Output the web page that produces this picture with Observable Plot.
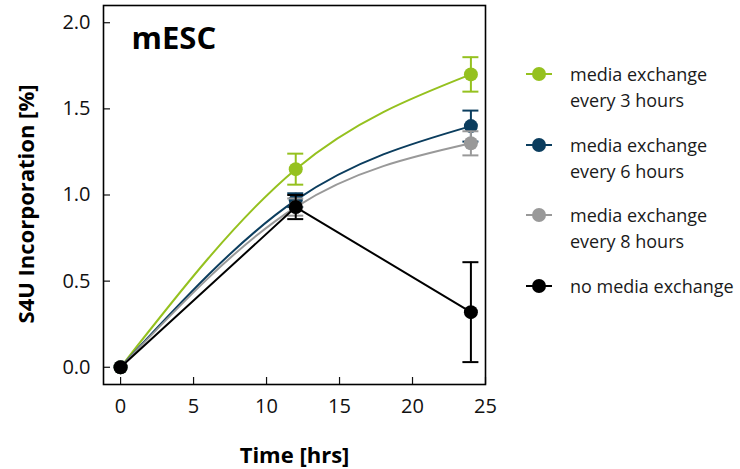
<!DOCTYPE html>
<html>
<head>
<meta charset="utf-8">
<script src="https://cdn.jsdelivr.net/npm/d3@7"></script>
<script src="https://cdn.jsdelivr.net/npm/@observablehq/plot@0.6"></script>
<style>
  body { margin: 0; background: #fff; }
  #wrap { position: relative; width: 740px; height: 469px; font-family: "Open Sans", sans-serif; }
  .leg { position: absolute; left: 524px; display: flex; align-items: flex-start; font-size: 18px; line-height: 26px; color: #1a1a1a; }
  .leg svg { margin-top: 3px; margin-right: 16px; }
</style>
</head>
<body>
<div id="wrap"></div>
<script>
const times = [0, 12, 24];
const seriesNames = ["media exchange every 3 hours", "media exchange every 6 hours", "media exchange every 8 hours", "no media exchange"];
const legendLines = [["media exchange", "every 3 hours"], ["media exchange", "every 6 hours"], ["media exchange", "every 8 hours"], ["no media exchange"]];
const colors = ["#95c11f", "#0b3d5e", "#999999", "#000000"];
const curves = ["monotone-x", "monotone-x", "monotone-x", "linear"];
const values3h = [0, 1.15, 1.70];
const err3h = [0, 0.09, 0.10];
const values6h = [0, 0.97, 1.40];
const err6h = [0, 0.04, 0.09];
const values8h = [0, 0.93, 1.30];
const err8h = [0, 0.05, 0.07];
const valuesNone = [0, 0.93, 0.32];
const errNone = [0, 0.07, 0.29];
const xTicks = [0, 5, 10, 15, 20, 25];
const yTicks = [0, 0.5, 1.0, 1.5, 2.0];

const allValues = [values3h, values6h, values8h, valuesNone];
const allErr = [err3h, err6h, err8h, errNone];

const marks = [];
allValues.forEach((vals, s) => {
  const rows = times.map((t, i) => ({t, v: vals[i], e: allErr[s][i]}));
  const er = rows.filter(d => d.e > 0);
  marks.push(Plot.line(rows, {x: "t", y: "v", stroke: colors[s], strokeWidth: 2, curve: curves[s]}));
  marks.push(Plot.ruleX(er, {x: "t", y1: d => d.v - d.e, y2: d => d.v + d.e, stroke: colors[s], strokeWidth: 2}));
  marks.push(Plot.ruleY(er, {y: d => d.v + d.e, x1: "t", x2: "t", insetLeft: -8, insetRight: -8, stroke: colors[s], strokeWidth: 2}));
  marks.push(Plot.ruleY(er, {y: d => d.v - d.e, x1: "t", x2: "t", insetLeft: -8, insetRight: -8, stroke: colors[s], strokeWidth: 2}));
  marks.push(Plot.dot(rows, {x: "t", y: "v", r: 7, fill: colors[s], stroke: null}));
});

const chart = Plot.plot({
  width: 740,
  height: 469,
  marginLeft: 103,
  marginRight: 255,
  marginTop: 5,
  marginBottom: 85,
  style: {fontFamily: "Open Sans, sans-serif", fontSize: "20px", color: "#111", background: "#fff"},
  x: {domain: [-1.17, 25]},
  y: {domain: [-0.1, 2.1]},
  marks: [
    Plot.axisX({ticks: xTicks, tickSize: -7, tickPadding: 21, label: null, strokeWidth: 1.2}),
    Plot.axisY({ticks: yTicks, tickFormat: d3.format(".1f"), tickSize: -7, tickPadding: 20, label: null, strokeWidth: 1.2}),
    ...marks,
    Plot.frame({stroke: "#000", strokeWidth: 1.6}),
    Plot.text(["mESC"], {frameAnchor: "top-left", dx: 28, dy: 21, lineAnchor: "top", textAnchor: "start", fontSize: 31, fontWeight: "bold", fill: "#000"}),
    Plot.text(["Time [hrs]"], {frameAnchor: "bottom", dy: 71, lineAnchor: "middle", textAnchor: "middle", fontSize: 22, fontWeight: "bold", fill: "#000"}),
    Plot.text(["S4U Incorporation [%]"], {frameAnchor: "left", dx: -77, dy: 9, rotate: -90, lineAnchor: "middle", textAnchor: "middle", fontSize: 22, fontWeight: "bold", fill: "#000"})
  ]
});
const wrap = document.getElementById("wrap");
wrap.appendChild(chart);

const legTops = [61, 132, 202, 273];
legendLines.forEach((lines, s) => {
  const div = document.createElement("div");
  div.className = "leg";
  div.style.top = legTops[s] + "px";
  div.innerHTML = `<svg width="30" height="20"><line x1="2" x2="28" y1="10" y2="10" stroke="${colors[s]}" stroke-width="2"/><circle cx="15" cy="10" r="7" fill="${colors[s]}"/></svg><div>${lines.join("<br>")}</div>`;
  wrap.appendChild(div);
});
</script>
</body>
</html>
